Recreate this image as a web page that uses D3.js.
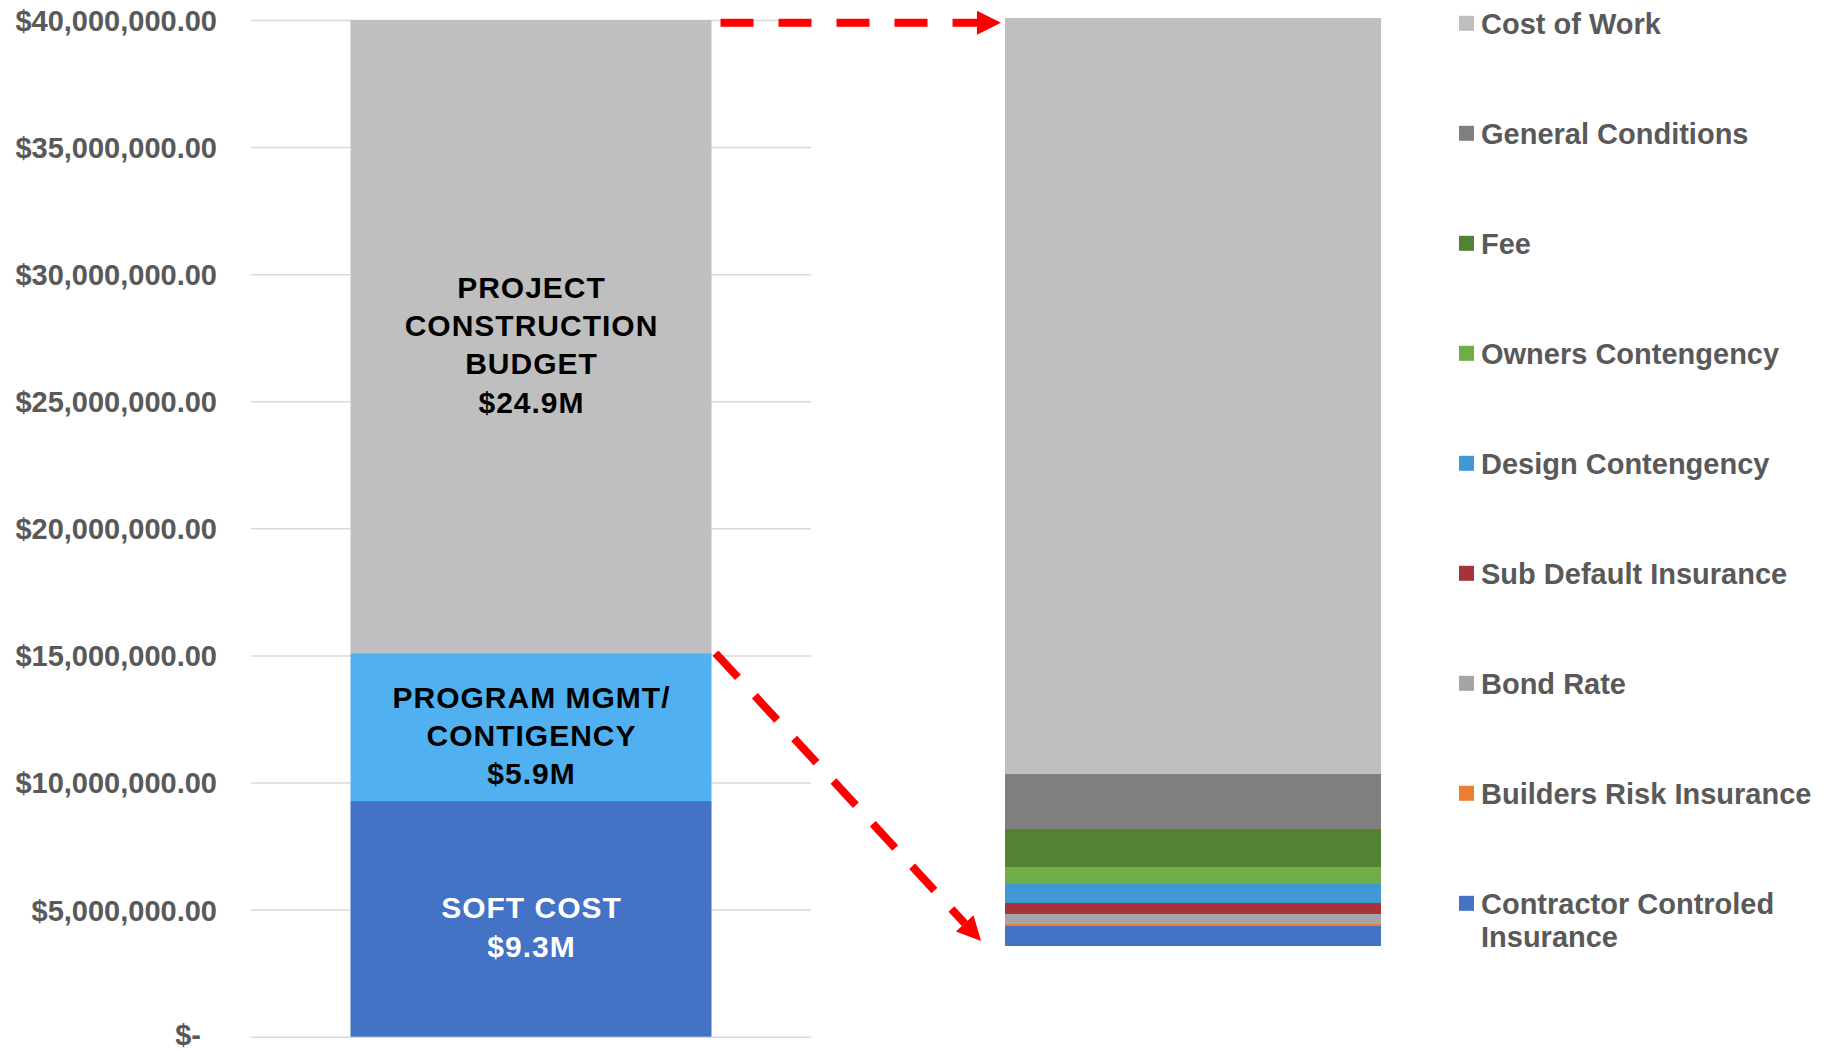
<!DOCTYPE html>
<html>
<head>
<meta charset="utf-8">
<script src="https://cdn.jsdelivr.net/npm/d3@7"></script>
<style>
  html, body { margin: 0; padding: 0; background: #ffffff; }
  svg { display: block; font-family: "Liberation Sans", Arial, sans-serif; }
</style>
</head>
<body>
<svg id="chart" width="1829" height="1051"></svg>
<script>
// ---------- DATA ----------
const leftCategories = ["SOFT COST", "PROGRAM MGMT/ CONTIGENCY", "PROJECT CONSTRUCTION BUDGET"];
const leftValues = [9270000, 5820000, 24910000];
const leftLabelLines = [
  ["SOFT COST", "$9.3M"],
  ["PROGRAM MGMT/", "CONTIGENCY", "$5.9M"],
  ["PROJECT", "CONSTRUCTION", "BUDGET", "$24.9M"]
];
const leftColors = ["#4472C4", "#50B0F0", "#BFBFBF"];
const leftLabelColors = ["#FFFFFF", "#000000", "#000000"];

const rightCategories = [
  "Contractor Controled Insurance", "Builders Risk Insurance", "Bond Rate",
  "Sub Default Insurance", "Design Contengency", "Owners Contengency",
  "Fee", "General Conditions", "Cost of Work"
];
const rightValues = [556000, 35000, 268000, 295000, 510000, 456000, 1020000, 1480000, 20290000];
const rightColors = ["#4472C4", "#ED7D31", "#A5A5A5", "#A8323A", "#4098D4", "#70AD47", "#548235", "#7F7F7F", "#BFBFBF"];

const yTickValues = [0, 5000000, 10000000, 15000000, 20000000, 25000000, 30000000, 35000000, 40000000];
const yTickLabels = ["$-", "$5,000,000.00", "$10,000,000.00", "$15,000,000.00", "$20,000,000.00",
                     "$25,000,000.00", "$30,000,000.00", "$35,000,000.00", "$40,000,000.00"];

// ---------- LAYOUT ----------
const svg = d3.select("#chart");
svg.append("rect").attr("width", 1829).attr("height", 1051).attr("fill", "#ffffff");

const grey = "#595959";

const xLeft = d3.scaleBand().domain(["Budget"]).range([251, 811]).paddingInner(0).paddingOuter(0.2756);
const yLeft = d3.scaleLinear().domain([0, 40000000]).range([1036.7, 20]);

const xRight = d3.scaleBand().domain(["Breakdown"]).range([1005, 1381]).padding(0);
const yRight = d3.scaleLinear().domain([0, d3.sum(rightValues)]).range([946, 18]);

// Gridlines
const axisG = svg.append("g").attr("transform", "translate(811,0)").call(
  d3.axisLeft(yLeft).tickValues(yTickValues).tickSize(811 - 251).tickFormat("")
);
axisG.select(".domain").remove();
axisG.selectAll(".tick line").attr("stroke", "#D9D9D9").attr("stroke-width", 1.5);

// Axis labels
const labelG = svg.append("g").attr("transform", "translate(217,0)").call(
  d3.axisLeft(yLeft).tickValues(yTickValues).tickSize(0).tickPadding(0).tickFormat((d, i) => yTickLabels[i])
);
labelG.select(".domain").remove();
labelG.attr("font-size", null).attr("font-family", null);
labelG.selectAll(".tick text")
  .style("font-family", "'Liberation Sans', Arial, sans-serif")
  .style("font-size", "29px")
  .style("font-weight", "bold")
  .attr("fill", grey)
  .attr("dy", (d) => d === 0 ? "0.28em" : "0.36em")
  .attr("dx", (d) => d === 0 ? -16 : 0);

// Left stacked bar
const leftRow = {};
leftCategories.forEach((c, i) => leftRow[c] = leftValues[i]);
const leftStack = d3.stack().keys(leftCategories)([leftRow]);

svg.append("g").selectAll("rect")
  .data(leftStack)
  .join("rect")
  .attr("x", xLeft("Budget"))
  .attr("width", xLeft.bandwidth())
  .attr("y", d => yLeft(d[0][1]))
  .attr("height", d => yLeft(d[0][0]) - yLeft(d[0][1]))
  .attr("fill", (d, i) => leftColors[i]);

const linePitch = 38.3;
leftStack.forEach((s, i) => {
  const cy = (yLeft(s[0][0]) + yLeft(s[0][1])) / 2;
  const lines = leftLabelLines[i];
  const firstBaseline = cy - (lines.length - 1) / 2 * linePitch + 10.7 + 8;
  const t = svg.append("text")
    .attr("text-anchor", "middle")
    .attr("font-size", 30)
    .attr("font-weight", "bold")
    .attr("letter-spacing", "1px")
    .attr("fill", leftLabelColors[i]);
  lines.forEach((ln, j) => {
    t.append("tspan")
      .attr("x", xLeft("Budget") + xLeft.bandwidth() / 2 + 0.5)
      .attr("y", firstBaseline + j * linePitch)
      .text(ln);
  });
});

// Right stacked bar
const rightRow = {};
rightCategories.forEach((c, i) => rightRow[c] = rightValues[i]);
const rightStack = d3.stack().keys(rightCategories)([rightRow]);

svg.append("g").selectAll("rect")
  .data(rightStack)
  .join("rect")
  .attr("x", xRight("Breakdown"))
  .attr("width", xRight.bandwidth())
  .attr("y", d => yRight(d[0][1]))
  .attr("height", d => yRight(d[0][0]) - yRight(d[0][1]))
  .attr("fill", (d, i) => rightColors[i]);

// Legend
const legendX = 1459, legendY0 = 23.3, legendStep = 110, legendMaxW = 350;
const legendItems = rightCategories.map((c, i) => ({ name: c, color: rightColors[i] })).reverse();
const legG = svg.append("g");
legendItems.forEach((it, i) => {
  const cy = legendY0 + i * legendStep;
  legG.append("rect")
    .attr("x", legendX).attr("y", cy - 7.5)
    .attr("width", 15).attr("height", 15)
    .attr("fill", it.color);
  const t = legG.append("text")
    .attr("font-size", 29)
    .attr("font-weight", "bold")
    .attr("fill", grey);
  const words = it.name.split(" ");
  let line = [];
  let lineNo = 0;
  let tspan = t.append("tspan").attr("x", legendX + 22).attr("y", cy + 10.7);
  words.forEach(w => {
    line.push(w);
    tspan.text(line.join(" "));
    if (tspan.node().getComputedTextLength() > legendMaxW && line.length > 1) {
      line.pop();
      tspan.text(line.join(" "));
      line = [w];
      lineNo++;
      tspan = t.append("tspan").attr("x", legendX + 22).attr("y", cy + 10.7 + lineNo * 33.3).text(w);
    }
  });
});

// Red dashed arrows
function arrow(x1, y1, x2, y2) {
  const headLen = 24, headHalf = 12;
  const dx = x2 - x1, dy = y2 - y1;
  const L = Math.sqrt(dx * dx + dy * dy);
  const ux = dx / L, uy = dy / L;
  const bx = x2 - ux * headLen, by = y2 - uy * headLen;
  svg.append("line")
    .attr("x1", x1).attr("y1", y1).attr("x2", bx).attr("y2", by)
    .attr("stroke", "#FF0000").attr("stroke-width", 8)
    .attr("stroke-dasharray", "33,25");
  const px = -uy, py = ux;
  svg.append("path")
    .attr("d", `M${x2},${y2}L${bx + px * headHalf},${by + py * headHalf}L${bx - px * headHalf},${by - py * headHalf}Z`)
    .attr("fill", "#FF0000");
}
const leftBarRight = xLeft("Budget") + xLeft.bandwidth();
const rightBarLeft = xRight("Breakdown");
arrow(leftBarRight + 9, yLeft(40000000) + 2.7, rightBarLeft - 4, yLeft(40000000) + 2.7);
arrow(leftBarRight + 4, yLeft(leftValues[0] + leftValues[1]), rightBarLeft - 24, yRight(0) - 5);
</script>
</body>
</html>
